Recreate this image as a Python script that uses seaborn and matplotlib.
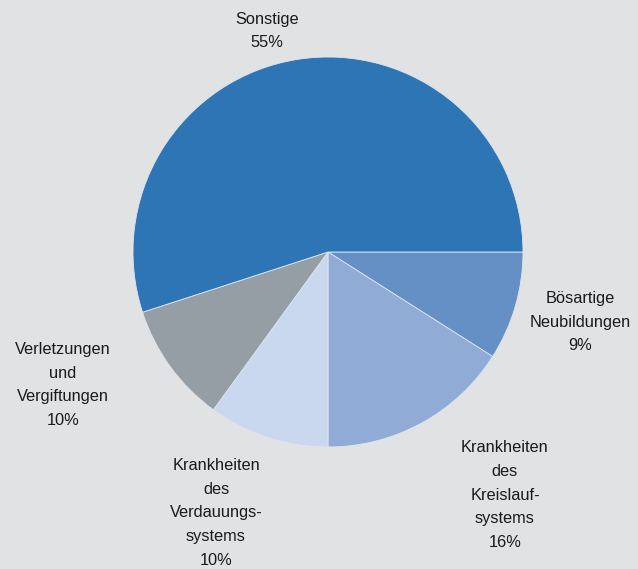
import matplotlib
matplotlib.use("Agg")
import matplotlib.pyplot as plt
import seaborn as sns

categories = ["Bösartige\nNeubildungen", "Krankheiten\ndes\nKreislauf-\nsystems",
              "Krankheiten\ndes\nVerdauungs-\nsystems", "Verletzungen\nund\nVergiftungen", "Sonstige"]
shares = [9, 16, 10, 10, 55]
colors = ["#6590C6", "#8FABD6", "#C9D7EF", "#959EA5", "#2E75B6"]
# label centres in pixel coordinates of the 638x569 canvas
label_px = [(580, 322), (505, 495), (216, 513), (63, 385), (267, 31)]

sns.set_theme(style="white")
plt.rcParams["font.family"] = ["Liberation Sans", "DejaVu Sans"]
bg = "#E1E2E4"

fig = plt.figure(figsize=(6.38, 5.69), dpi=100, facecolor=bg)
ax = fig.add_axes([0, 0, 1, 1])
ax.set_facecolor(bg)

cx, cy, R = 328, 252, 195
ax.pie(shares, colors=colors, startangle=0, counterclock=False, radius=1,
       wedgeprops=dict(linewidth=0.6, edgecolor="#dfe6f0"))
ax.set_xlim(-cx / R, (638 - cx) / R)
ax.set_ylim(-(569 - cy) / R, cy / R)
ax.set_aspect("auto")
ax.axis("off")

for cat, val, (px, py) in zip(categories, shares, label_px):
    ax.text((px - cx) / R, (cy - py) / R, f"{cat}\n{val}%", ha="center", va="center",
            multialignment="center", fontsize=11.8, color="#1a1a1a", linespacing=1.72)

fig.savefig("out.png", dpi=100, facecolor=bg)
